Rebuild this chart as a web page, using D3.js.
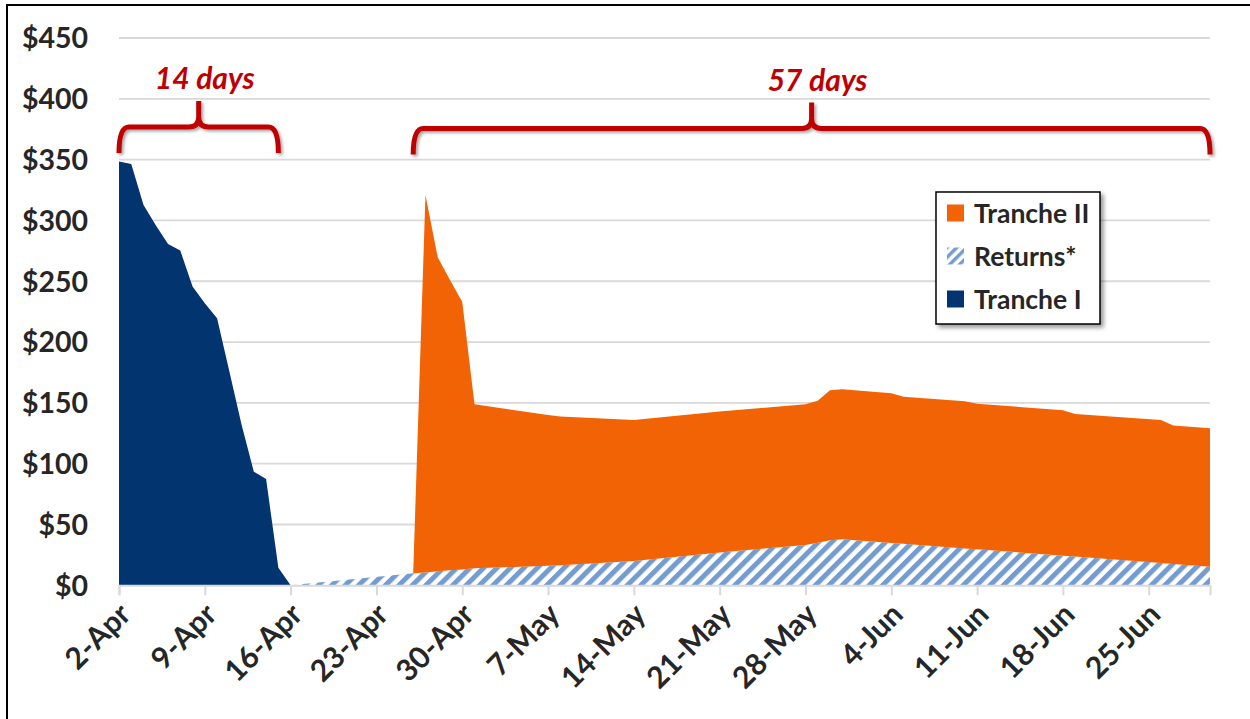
<!DOCTYPE html>
<html>
<head>
<meta charset="utf-8">
<script src="https://cdn.jsdelivr.net/npm/d3@7"></script>
<style>
    body { margin: 0; background: #fff; }
    text { font-family: Lato, "Open Sans", sans-serif; }
</style>
</head>
<body>
<svg width="1250" height="719"></svg>
<script>
// dates of the data points (2020)
var dates = ["2-Apr", "3-Apr", "4-Apr", "5-Apr", "6-Apr", "7-Apr", "8-Apr", "9-Apr", "10-Apr",
    "11-Apr", "12-Apr", "13-Apr", "14-Apr", "15-Apr", "16-Apr", "26-Apr", "27-Apr", "28-Apr",
    "29-Apr", "30-Apr", "1-May", "7-May", "8-May", "14-May", "21-May", "28-May", "29-May",
    "30-May", "31-May", "4-Jun", "5-Jun", "10-Jun", "11-Jun", "18-Jun", "19-Jun", "26-Jun",
    "27-Jun", "30-Jun"];

// remaining funds, $ billions
var trancheI = [348.4, 346.5, 312.7, 296, 280.7, 275.2, 245.6, 232, 219.6,
    176, 132, 93.4, 87.4, 14.5, 0, 0, 0, 0,
    0, 0, 0, 0, 0, 0, 0, 0, 0,
    0, 0, 0, 0, 0, 0, 0, 0, 0,
    0, 0];
var returns = [0, 0, 0, 0, 0, 0, 0, 0, 0,
    0, 0, 0, 0, 0, 0, 9.9, 10.5, 11.5,
    12.3, 13, 14, 16, 16.5, 20, 27, 33.2, 35,
    37, 37.8, 34.8, 34.1, 30.3, 29.6, 24.3, 23.6, 18.3,
    17.6, 15.3];
var trancheII = [0, 0, 0, 0, 0, 0, 0, 0, 0,
    0, 0, 0, 0, 0, 0, 0, 310.5, 258.2,
    238.7, 220.2, 134.8, 124, 122.2, 116, 116, 115.6, 116.8,
    123.3, 123.4, 123.1, 121, 121, 119.7, 119.6, 117.3, 117.6,
    113.7, 113.8];

var tickLabels = ["2-Apr", "9-Apr", "16-Apr", "23-Apr", "30-Apr", "7-May", "14-May",
    "21-May", "28-May", "4-Jun", "11-Jun", "18-Jun", "25-Jun"];
var yTicks = [0, 50, 100, 150, 200, 250, 300, 350, 400, 450];

var legendNames = ["Tranche II", "Returns*", "Tranche I"];
var braceFrom = ["2-Apr", "26-Apr"];
var braceTo = ["15-Apr", "30-Jun"];
var braceLabels = ["14 days", "57 days"];

var colors = { trancheI: "#02346F", returns: "url(#hatch)", trancheII: "#F26306" };
var legendFill = ["#F26306", "url(#hatchSmall)", "#02346F"];

var parse = d3.utcParse("%d-%b-%Y");
function toDate(s) { return parse(s + "-2020"); }

var svg = d3.select("svg"),
    margin = { top: 38, right: 40, bottom: 133.7, left: 119 };

var x = d3.scaleUtc()
    .domain([toDate("2-Apr"), toDate("30-Jun")])
    .range([margin.left, 1210]);
var y = d3.scaleLinear()
    .domain([0, 450])
    .range([585.3, margin.top]);

var defs = svg.append("defs");
var hatch = defs.append("pattern")
    .attr("id", "hatch")
    .attr("patternUnits", "userSpaceOnUse")
    .attr("width", 9.5).attr("height", 9.5)
    .attr("patternTransform", "rotate(45)");
hatch.append("rect").attr("width", 9.5).attr("height", 9.5).attr("fill", "#fff");
hatch.append("rect").attr("width", 5).attr("height", 9.5).attr("fill", "#759CCF");

var hatchSmall = defs.append("pattern")
    .attr("id", "hatchSmall")
    .attr("patternUnits", "userSpaceOnUse")
    .attr("width", 7).attr("height", 7)
    .attr("patternTransform", "rotate(45)");
hatchSmall.append("rect").attr("width", 7).attr("height", 7).attr("fill", "#fff");
hatchSmall.append("rect").attr("width", 3.5).attr("height", 7).attr("fill", "#759CCF");

var shadow = defs.append("filter").attr("id", "shadow")
    .attr("x", "-10%").attr("y", "-30%").attr("width", "130%").attr("height", "180%");
shadow.append("feDropShadow").attr("dx", 2).attr("dy", 2).attr("stdDeviation", 1.5)
    .attr("flood-color", "#000").attr("flood-opacity", 0.35);

var boxShadow = defs.append("filter").attr("id", "boxShadow")
    .attr("x", "-10%").attr("y", "-10%").attr("width", "130%").attr("height", "130%");
boxShadow.append("feDropShadow").attr("dx", 3).attr("dy", 3).attr("stdDeviation", 2)
    .attr("flood-color", "#000").attr("flood-opacity", 0.4);

// outer frame (the crop cuts it on the right and bottom)
svg.append("rect")
    .attr("x", 7).attr("y", 5)
    .attr("width", 1300).attr("height", 800)
    .attr("fill", "none")
    .attr("stroke", "#000")
    .attr("stroke-width", 2);

// gridlines
svg.append("g")
    .selectAll("line")
    .data(yTicks.filter(function (d) { return d > 0; }))
    .enter().append("line")
    .attr("x1", x.range()[0]).attr("x2", x.range()[1])
    .attr("y1", function (d) { return y(d); })
    .attr("y2", function (d) { return y(d); })
    .attr("stroke", "#D9D9D9")
    .attr("stroke-width", 1.8);

// y labels
svg.append("g")
    .selectAll("text")
    .data(yTicks)
    .enter().append("text")
    .attr("x", 88)
    .attr("y", function (d) { return y(d); })
    .attr("dy", "0.36em")
    .attr("text-anchor", "end")
    .attr("font-size", 28.5)
    .attr("font-weight", "bold")
    .attr("fill", "#262626")
    .text(function (d) { return "$" + d; });

// stacked areas
var rows = dates.map(function (s, i) {
    return { date: toDate(s), trancheI: trancheI[i], returns: returns[i], trancheII: trancheII[i] };
});
var stack = d3.stack().keys(["trancheI", "returns", "trancheII"]);
var layers = stack(rows);

var area = d3.area()
    .x(function (d) { return x(d.data.date); })
    .y0(function (d) { return y(d[0]); })
    .y1(function (d) { return y(d[1]); });

svg.append("g")
    .selectAll("path")
    .data(layers)
    .enter().append("path")
    .attr("d", area)
    .attr("fill", function (d) { return colors[d.key]; });

// x axis line and ticks
var xAxis = svg.append("g")
    .attr("transform", "translate(0," + y(0) + ")")
    .call(d3.axisBottom(x)
        .tickValues(tickLabels.map(toDate))
        .tickSize(10)
        .tickFormat(d3.utcFormat("%-d-%b")));
xAxis.select(".domain").attr("stroke", "#D9D9D9").attr("stroke-width", 2);
xAxis.selectAll(".tick line").attr("stroke", "#D9D9D9").attr("stroke-width", 2);
xAxis.selectAll(".tick text")
    .attr("font-family", "Lato, 'Open Sans', sans-serif")
    .attr("font-size", 30)
    .attr("font-weight", "bold")
    .attr("fill", "#262626")
    .attr("text-anchor", "end")
    .attr("y", 0)
    .attr("dy", 0)
    .attr("transform", "translate(13,31) rotate(-45)");

// braces with day counts
braceLabels.forEach(function (label, i) {
    var x0 = x(toDate(braceFrom[i])), x1 = x(toDate(braceTo[i])), xc = (x0 + x1) / 2;
    var ym = 127 + i * 1.5, yb = ym + 26, yt = ym - 26, r = 10;
    var p = d3.path();
    p.moveTo(x0, yb);
    p.quadraticCurveTo(x0, ym, x0 + r, ym);
    p.lineTo(xc - r, ym);
    p.quadraticCurveTo(xc, ym, xc, ym - r);
    p.lineTo(xc, yt);
    p.moveTo(xc, ym - r);
    p.quadraticCurveTo(xc, ym, xc + r, ym);
    p.lineTo(x1 - r, ym);
    p.quadraticCurveTo(x1, ym, x1, yb);
    svg.append("path")
        .attr("d", p.toString())
        .attr("fill", "none")
        .attr("stroke", "#C00000")
        .attr("stroke-width", 5)
        .attr("filter", "url(#shadow)");
    svg.append("text")
        .attr("x", xc + 6)
        .attr("y", yt - 12)
        .attr("text-anchor", "middle")
        .attr("font-size", 30)
        .attr("font-weight", "bold")
        .attr("font-style", "italic")
        .attr("fill", "#C00000")
        .text(label);
});

// legend
var legend = svg.append("g").attr("transform", "translate(936,192)");
legend.append("rect")
    .attr("width", 164).attr("height", 132)
    .attr("fill", "#fff")
    .attr("stroke", "#000")
    .attr("stroke-width", 1.5)
    .attr("filter", "url(#boxShadow)");
var item = legend.selectAll(".item")
    .data(legendNames)
    .enter().append("g")
    .attr("class", "item")
    .attr("transform", function (d, i) { return "translate(0," + (21 + i * 43) + ")"; });
item.append("rect")
    .attr("x", 11).attr("y", -8.5)
    .attr("width", 17).attr("height", 17)
    .attr("fill", function (d, i) { return legendFill[i]; });
item.append("text")
    .attr("x", 38)
    .attr("dy", "0.36em")
    .attr("font-size", 26.5)
    .attr("font-weight", "bold")
    .attr("fill", "#262626")
    .text(function (d) { return d; });
</script>
</body>
</html>
